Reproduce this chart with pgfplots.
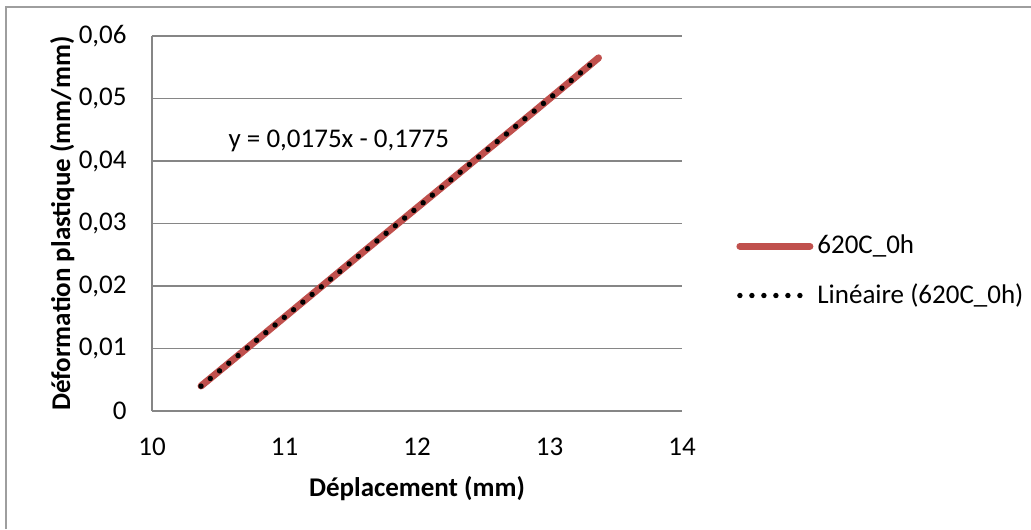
\documentclass[border=0pt]{standalone}
\usepackage{fontspec}
\setmainfont{Carlito}
\usepackage{pgfplots}
\pgfplotsset{compat=1.18}
\definecolor{redline}{RGB}{192,80,77}
\definecolor{gridgray}{RGB}{134,134,134}
\begin{document}
\fontsize{13.5}{16}\selectfont
\begin{tikzpicture}[x=1pt,y=1pt]
% page bounds (1 px = 0.5 pt)
\path[use as bounding box] (-76,205.5) rectangle (439.5,-59);
\draw[gridgray!80,line width=0.6pt] (-73,-59) -- (-73,202) -- (439.5,202);
\begin{axis}[
  at={(0,0)}, anchor=south west,
  scale only axis, width=265pt, height=187.5pt,
  xmin=10, xmax=14, ymin=0, ymax=0.06,
  xtick={10,11,12,13,14}, ytick={0,0.01,0.02,0.03,0.04,0.05,0.06},
  scaled y ticks=false,
  yticklabel={\pgfmathprintnumber[fixed,precision=2,use comma,assume math mode=true]{\tick}},
  xticklabel={\pgfmathprintnumber[assume math mode=true]{\tick}},
  axis x line=bottom, axis y line=left,
  axis line style={gridgray, line width=1.2pt, -},
  major tick length=0pt,
  ymajorgrids, grid style={gridgray, line width=0.8pt},
  yticklabel style={xshift=-8pt},
  xticklabel style={yshift=-9pt},
  tick label style={font=\fontsize{13.5}{16}\selectfont},
  xlabel={\bfseries Déplacement (mm)},
  ylabel={\bfseries Déformation plastique (mm/mm)},
  xlabel style={yshift=-1pt},
  ylabel style={yshift=-7pt},
  label style={font=\fontsize{13.5}{16}\selectfont},
  legend style={at={(1.0,0.373)}, anchor=west, xshift=24pt, draw=none, fill=none,
    font=\fontsize{13.5}{16}\selectfont, row sep=9pt, cells={anchor=west},
    /tikz/every even column/.append style={column sep=2pt}},
  legend cell align=left,
  legend image code/.code={\draw[#1] (0pt,0pt) -- (35pt,0pt);},
  clip=false,
]
\addplot[redline, line width=3.5pt, line cap=round] coordinates {
 (10.37,0.0040) (10.80,0.0115) (11.50,0.0238) (12.20,0.0360) (12.90,0.0482) (13.37,0.0565)
};
\addlegendentry{620C\_0h}
\addplot[black, line width=2.7pt, line cap=round, dash pattern=on 0pt off 6pt] coordinates {
 (10.37,0.00398) (13.37,0.05648)
};
\addlegendentry{Linéaire (620C\_0h)}
\node[font=\fontsize{13.5}{16}\selectfont] at (axis cs:11.41,0.0432) {y = 0,0175x - 0,1775};
\end{axis}
\end{tikzpicture}
\end{document}
